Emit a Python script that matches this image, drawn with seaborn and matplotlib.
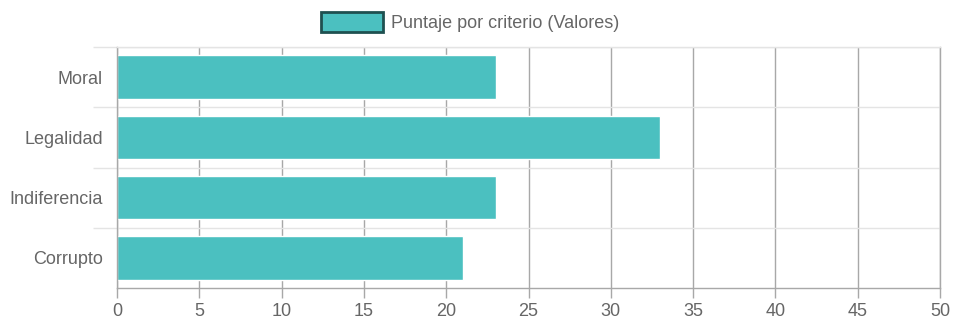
import matplotlib
matplotlib.use("Agg")
import matplotlib.pyplot as plt
import seaborn as sns
import pandas as pd
from matplotlib.ticker import FixedLocator

categories = ["Moral", "Legalidad", "Indiferencia", "Corrupto"]
values = [23, 33, 23, 21]
series_label = "Puntaje por criterio (Valores)"
xticks = [0, 5, 10, 15, 20, 25, 30, 35, 40, 45, 50]

df = pd.DataFrame({"criterio": categories, "valor": values})

sns.set_theme(style="white")
plt.rcParams["font.family"] = ["Liberation Sans", "DejaVu Sans"]

W, H = 955, 330
fig = plt.figure(figsize=(W / 100, H / 100), dpi=100)
ax = fig.add_axes([117 / W, 1 - 288 / H, (940 - 117) / W, (288 - 47) / H])

teal = "#4BC0C0"
sns.barplot(data=df, x="valor", y="criterio", color=teal, saturation=1,
            width=0.72, label=series_label, ax=ax, orient="h")

ax.set_xlim(0, 50)
ax.set_ylim(len(categories) - 0.5, -0.5)
ax.set_xlabel("")
ax.set_ylabel("")

text_color = "#666666"
fs = 13
ax.xaxis.set_major_locator(FixedLocator(xticks))
ax.set_xticklabels([str(t) for t in xticks])
ax.tick_params(axis="x", which="major", length=7, width=1, color="#a8a8a8",
               labelsize=fs, labelcolor=text_color, pad=4, bottom=True)
ax.tick_params(axis="y", which="major", length=0, labelsize=fs,
               labelcolor=text_color, pad=10)
ax.yaxis.set_minor_locator(FixedLocator([i + 0.5 for i in range(-1, len(categories) - 1)]))
ax.tick_params(axis="y", which="minor", length=17, width=1, color="#e4e4e4", left=True)

ax.grid(axis="x", which="major", color="#a8a8a8", linewidth=1)
ax.grid(axis="y", which="minor", color="#e4e4e4", linewidth=1)
ax.grid(axis="y", which="major", visible=False)
ax.set_axisbelow(True)

ax.spines["top"].set_color("#e4e4e4")
ax.spines["right"].set_color("#a8a8a8")
ax.spines["left"].set_color("#a8a8a8")
ax.spines["bottom"].set_color("#a8a8a8")
for s in ax.spines.values():
    s.set_linewidth(1)

if ax.get_legend() is not None:
    ax.get_legend().remove()
handles, labels = ax.get_legend_handles_labels()
fpx = fs * 100 / 72
leg = fig.legend(handles, labels, loc="upper center", bbox_to_anchor=(470 / W, 1 - 10 / H),
                 frameon=False, fontsize=fs, handlelength=62 / fpx, handleheight=24 / fpx,
                 handletextpad=8 / fpx, borderaxespad=0, borderpad=0.1)
for t in leg.get_texts():
    t.set_color(text_color)
for h in leg.legend_handles:
    h.set_edgecolor("#1f5050")
    h.set_linewidth(2)

fig.savefig("out.png", dpi=100)
